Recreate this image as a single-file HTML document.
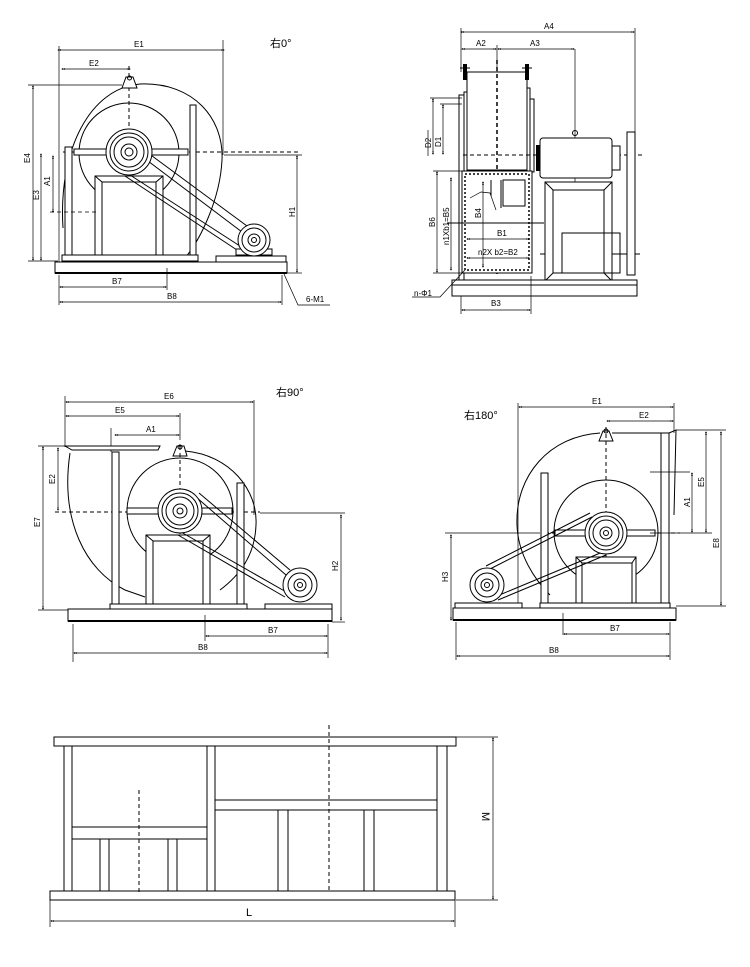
<!DOCTYPE html>
<html><head><meta charset="utf-8"><style>
html,body{margin:0;padding:0;background:#fff}
svg{display:block}
text{font-family:"Liberation Sans","Noto Sans CJK SC",sans-serif;fill:#000}
.l{stroke:#000;stroke-width:1;fill:none}
.t{stroke:#000;stroke-width:0.7;fill:none}
.w{stroke:#000;stroke-width:1;fill:#fff}
.d{stroke:#000;stroke-width:1;fill:none;stroke-dasharray:4 3}
.dm{stroke:#000;stroke-width:0.7;fill:none;marker-start:url(#a);marker-end:url(#a)}
.s{font-size:8px}
.m{font-size:11px}
</style></head><body>
<svg width="750" height="967" viewBox="0 0 750 967" xmlns="http://www.w3.org/2000/svg">
<defs><marker id="a" viewBox="0 0 10 10" refX="5" refY="5" markerWidth="5" markerHeight="5" orient="auto-start-reverse"><path d="M0,2 L5,5 L0,8 Z M5,2 L10,5 L5,8Z" fill="#000"/></marker></defs>

<!-- ===== VIEW 1 ===== -->
<text x="270" y="47" class="m">右0°</text>
<line class="dm" x1="59" y1="50" x2="223" y2="50"/><text x="134" y="47" class="s">E1</text>
<line class="t" x1="59" y1="46" x2="59" y2="262"/><line class="t" x1="223" y1="40" x2="223" y2="155"/>
<line class="dm" x1="63" y1="69" x2="129" y2="69"/><text x="89" y="66" class="s">E2</text>
<line class="d" x1="129" y1="66" x2="129" y2="262"/>
<path class="l" d="M63,228 C58,150 90,88 140,84 C195,82 224,120 222,160 C220,200 200,240 185,258"/>
<circle class="l" cx="129" cy="153" r="50"/>
<path class="w" d="M122,88 L126,77 L133,77 L137,88 Z"/><circle class="l" cx="129.5" cy="78" r="2"/>
<line class="d" x1="63" y1="152" x2="300" y2="152"/>
<rect class="w" x="74" y="149" width="114" height="6"/>
<rect class="w" x="190" y="105" width="6" height="155"/>
<rect class="w" x="65" y="147" width="7" height="108"/>
<rect class="w" x="95" y="176" width="68" height="84"/>
<rect class="l" x="102" y="182" width="54" height="78"/>
<line class="l" x1="95" y1="176" x2="102" y2="182"/><line class="l" x1="163" y1="176" x2="156" y2="182"/>
<line class="l" x1="140" y1="155" x2="242" y2="232"/><line class="l" x1="144" y1="150" x2="247" y2="226"/>
<line class="l" x1="125" y1="176" x2="240" y2="252"/><line class="l" x1="130" y1="175" x2="243" y2="248"/>
<circle class="w" cx="129" cy="152" r="23"/><circle class="l" cx="129" cy="152" r="19"/><circle class="l" cx="129" cy="152" r="15"/><circle class="l" cx="129" cy="152" r="8"/><circle class="l" cx="129" cy="152" r="4"/>
<rect class="w" x="236" y="249" width="36" height="6"/>
<circle class="w" cx="254" cy="240" r="16"/><circle class="l" cx="254" cy="240" r="12"/><circle class="l" cx="254" cy="240" r="6"/><circle class="l" cx="254" cy="240" r="2.5"/>
<rect class="w" x="62" y="255" width="136" height="6"/>
<rect class="w" x="216" y="256" width="70" height="6"/>
<rect class="w" x="55" y="262" width="232" height="11"/>
<line class="l" x1="55" y1="273" x2="287" y2="273" style="stroke-width:2"/>
<line class="t" x1="28" y1="85" x2="122" y2="85"/><line class="t" x1="28" y1="261" x2="58" y2="261"/>
<line class="dm" x1="33" y1="87" x2="33" y2="259"/><text transform="translate(30,163) rotate(-90)" class="s">E4</text>
<line class="dm" x1="41" y1="155" x2="41" y2="259"/><text transform="translate(39,200) rotate(-90)" class="s">E3</text>
<line class="t" x1="50" y1="212" x2="98" y2="212" style="stroke-dasharray:4 3"/>
<line class="dm" x1="53" y1="157" x2="53" y2="211"/><text transform="translate(50,186) rotate(-90)" class="s">A1</text>
<line class="t" x1="224" y1="155" x2="302" y2="155"/><line class="t" x1="287" y1="273" x2="302" y2="273"/>
<line class="dm" x1="297" y1="157" x2="297" y2="271"/><text transform="translate(295,217) rotate(-90)" class="s">H1</text>
<line class="t" x1="59" y1="275" x2="59" y2="305"/><line class="t" x1="167" y1="268" x2="167" y2="290"/><line class="t" x1="282" y1="275" x2="282" y2="305"/>
<line class="dm" x1="61" y1="287" x2="165" y2="287"/><text x="112" y="284" class="s">B7</text>
<line class="dm" x1="61" y1="302" x2="280" y2="302"/><text x="167" y="299" class="s">B8</text>
<path class="t" d="M284,274 L298,305 L330,305"/><text x="306" y="302" class="s">6-M1</text>

<!-- ===== VIEW 2 ===== -->
<line class="dm" x1="462" y1="32" x2="633" y2="32"/><text x="544" y="29" class="s">A4</text>
<line class="t" x1="461" y1="28" x2="461" y2="72"/><line class="t" x1="635" y1="28" x2="635" y2="132"/>
<line class="dm" x1="463" y1="49" x2="495" y2="49"/><text x="476" y="46" class="s">A2</text>
<line class="dm" x1="499" y1="49" x2="573" y2="49"/><text x="530" y="46" class="s">A3</text>
<line class="t" x1="575" y1="49" x2="575" y2="182"/>
<line class="t" x1="497" y1="45" x2="497" y2="72"/>
<rect class="w" x="467" y="72" width="60" height="98"/>
<rect x="463" y="64" width="4" height="16" fill="#000"/><rect x="525" y="64" width="4" height="16" fill="#000"/>
<line class="l" x1="460" y1="68" x2="470" y2="68"/><line class="l" x1="522" y1="68" x2="532" y2="68"/>
<rect class="w" x="459" y="95" width="5" height="190"/><rect class="w" x="464" y="92" width="3" height="80"/>
<rect class="w" x="527" y="88" width="3" height="84"/><rect class="w" x="530" y="99" width="4" height="73"/>
<line class="d" x1="497" y1="60" x2="497" y2="275" style="stroke-width:1.5"/>
<line class="d" x1="463" y1="155" x2="645" y2="155"/>
<rect class="w" x="462" y="171" width="70" height="102"/>
<rect class="d" x="465" y="174" width="64" height="96" style="stroke-width:1.5;stroke-dasharray:2 2"/>
<line class="l" x1="491" y1="180" x2="491" y2="196"/><line class="l" x1="501" y1="180" x2="501" y2="208"/>
<rect class="l" x="503" y="180" width="22" height="26"/>
<line class="l" x1="447" y1="223" x2="544" y2="223"/>
<line class="l" x1="540" y1="254" x2="640" y2="254"/>
<rect class="w" x="540" y="138" width="72" height="40" rx="3"/>
<rect x="536" y="145" width="4" height="26" fill="#000"/>
<rect class="w" x="612" y="146" width="8" height="24"/>
<circle class="l" cx="575" cy="133" r="2.5"/>
<rect class="w" x="545" y="182" width="67" height="99"/>
<rect class="l" x="553" y="190" width="51" height="83"/>
<line class="l" x1="545" y1="182" x2="553" y2="190"/><line class="l" x1="612" y1="182" x2="604" y2="190"/>
<line class="l" x1="545" y1="281" x2="553" y2="273"/><line class="l" x1="612" y1="281" x2="604" y2="273"/>
<rect class="l" x="562" y="233" width="58" height="40"/>
<rect class="w" x="627" y="132" width="8" height="143"/>
<rect class="w" x="452" y="280" width="185" height="16"/>
<line class="l" x1="452" y1="285" x2="637" y2="285"/>
<line class="t" x1="430" y1="98" x2="462" y2="98"/><line class="t" x1="440" y1="104" x2="462" y2="104"/>
<line class="dm" x1="433" y1="100" x2="433" y2="153"/><text transform="translate(431,148) rotate(-90)" class="s">D2</text>
<line class="t" x1="428" y1="156" x2="428" y2="130"/>
<line class="dm" x1="443" y1="106" x2="443" y2="153"/><text transform="translate(441,147) rotate(-90)" class="s">D1</text>
<line class="t" x1="433" y1="171" x2="463" y2="171"/><line class="t" x1="433" y1="273" x2="463" y2="273"/>
<line class="dm" x1="437" y1="173" x2="437" y2="271"/><text transform="translate(435,227) rotate(-90)" class="s">B6</text>
<line class="dm" x1="451" y1="179" x2="451" y2="269"/><text transform="translate(449,245) rotate(-90)" class="s">n1Xb1=B5</text>
<line class="dm" x1="483" y1="183" x2="483" y2="266"/><text transform="translate(481,218) rotate(-90)" class="s">B4</text>
<path class="t" d="M470,198 L481,192 L490,193 L496,210"/>
<line class="dm" x1="468" y1="239" x2="528" y2="239"/><text x="497" y="236" class="s">B1</text>
<line class="dm" x1="468" y1="258" x2="528" y2="258"/><text x="478" y="255" class="s">n2X b2=B2</text>
<path class="t" d="M465,270 L440,297 L412,297"/><text x="414" y="296" class="s">n-Φ1</text>
<line class="t" x1="461" y1="296" x2="461" y2="314"/><line class="t" x1="531" y1="276" x2="531" y2="314"/>
<line class="dm" x1="463" y1="310" x2="529" y2="310"/><text x="491" y="306" class="s">B3</text>

<!-- ===== VIEW 3 ===== -->
<text x="276" y="396" class="m">右90°</text>
<line class="t" x1="65" y1="396" x2="65" y2="447"/><line class="t" x1="254" y1="400" x2="254" y2="515"/>
<line class="dm" x1="67" y1="402" x2="252" y2="402"/><text x="164" y="399" class="s">E6</text>
<line class="dm" x1="67" y1="416" x2="178" y2="416"/><text x="115" y="413" class="s">E5</text>
<line class="t" x1="180" y1="413" x2="180" y2="440"/><line class="t" x1="111" y1="428" x2="111" y2="452"/>
<line class="dm" x1="116" y1="435" x2="178" y2="435"/><text x="146" y="432" class="s">A1</text>
<path class="l" d="M70,453 C60,520 85,570 125,590 L145,597 M185,451 C230,455 258,490 256,525 C255,555 240,575 220,590"/>
<path class="l" d="M65,446 L160,446 L158,450 L72,450 Z" style="fill:#fff"/>
<circle class="l" cx="180" cy="511" r="53"/>
<path class="w" d="M173,456 L177,446 L184,446 L187,456 Z"/><circle class="l" cx="180" cy="447" r="2"/>
<line class="d" x1="180" y1="446" x2="180" y2="605"/>
<line class="d" x1="55" y1="512" x2="260" y2="512"/>
<rect class="w" x="127" y="508" width="105" height="6"/>
<rect class="w" x="112" y="452" width="7" height="153"/>
<rect class="w" x="237" y="483" width="7" height="122"/>
<rect class="w" x="146" y="535" width="64" height="70"/>
<rect class="l" x="153" y="541" width="50" height="64"/>
<line class="l" x1="146" y1="535" x2="153" y2="541"/><line class="l" x1="210" y1="535" x2="203" y2="541"/>
<line class="l" x1="196" y1="497" x2="286" y2="575"/><line class="l" x1="199" y1="493" x2="290" y2="570"/>
<line class="l" x1="178" y1="535" x2="285" y2="597"/><line class="l" x1="181" y1="532" x2="288" y2="593"/>
<circle class="w" cx="180" cy="511" r="22"/><circle class="l" cx="180" cy="511" r="18"/><circle class="l" cx="180" cy="511" r="14"/><circle class="l" cx="180" cy="511" r="7"/><circle class="l" cx="180" cy="511" r="3"/>
<rect class="w" x="265" y="604" width="67" height="7"/>
<circle class="w" cx="300" cy="585" r="17"/><circle class="l" cx="300" cy="585" r="12"/><circle class="l" cx="300" cy="585" r="6"/><circle class="l" cx="300" cy="585" r="2.5"/>
<rect class="w" x="110" y="604" width="137" height="5"/>
<rect class="w" x="68" y="609" width="264" height="12"/>
<line class="l" x1="68" y1="621" x2="332" y2="621" style="stroke-width:2"/>
<line class="t" x1="38" y1="446" x2="66" y2="446"/><line class="t" x1="38" y1="610" x2="68" y2="610"/>
<line class="dm" x1="43" y1="448" x2="43" y2="608"/><text transform="translate(40,527) rotate(-90)" class="s">E7</text>
<line class="dm" x1="58" y1="449" x2="58" y2="509"/><text transform="translate(55,484) rotate(-90)" class="s">E2</text>
<line class="t" x1="260" y1="513" x2="345" y2="513"/><line class="t" x1="332" y1="622" x2="345" y2="622"/>
<line class="dm" x1="341" y1="516" x2="341" y2="619"/><text transform="translate(338,571) rotate(-90)" class="s">H2</text>
<line class="t" x1="205" y1="615" x2="205" y2="641"/><line class="t" x1="328" y1="624" x2="328" y2="658"/><line class="t" x1="73" y1="624" x2="73" y2="662"/>
<line class="dm" x1="207" y1="636" x2="326" y2="636"/><text x="268" y="633" class="s">B7</text>
<line class="dm" x1="75" y1="653" x2="326" y2="653"/><text x="198" y="650" class="s">B8</text>

<!-- ===== VIEW 4 ===== -->
<text x="464" y="419" class="m">右180°</text>
<line class="t" x1="518" y1="403" x2="518" y2="605"/><line class="t" x1="674" y1="403" x2="674" y2="433"/>
<line class="dm" x1="520" y1="407" x2="672" y2="407"/><text x="592" y="404" class="s">E1</text>
<line class="dm" x1="608" y1="421" x2="672" y2="421"/><text x="639" y="418" class="s">E2</text>
<path class="l" d="M600,433 C550,436 515,475 517,525 C518,555 535,580 550,595"/>
<line class="l" x1="612" y1="433" x2="669" y2="433"/>
<path class="l" d="M669,433 L676,430 L674,515"/>
<circle class="l" cx="606" cy="532" r="52"/>
<path class="w" d="M599,441 L603,431 L609,431 L613,441 Z"/><circle class="l" cx="606" cy="431" r="2"/>
<line class="d" x1="606" y1="427" x2="606" y2="615"/>
<line class="d" x1="545" y1="533" x2="680" y2="533"/>
<rect class="w" x="555" y="530" width="100" height="6"/>
<rect class="w" x="661" y="433" width="8" height="172"/>
<rect class="w" x="541" y="473" width="7" height="132"/>
<line class="t" x1="650" y1="472" x2="690" y2="472"/>
<rect class="w" x="576" y="557" width="60" height="50"/>
<rect class="l" x="582" y="563" width="50" height="44"/>
<line class="l" x1="576" y1="557" x2="582" y2="563"/><line class="l" x1="636" y1="557" x2="632" y2="563"/>
<line class="l" x1="488" y1="570" x2="592" y2="517"/><line class="l" x1="486" y1="566" x2="590" y2="513"/>
<line class="l" x1="498" y1="600" x2="606" y2="555"/><line class="l" x1="497" y1="596" x2="605" y2="551"/>
<circle class="w" cx="606" cy="533" r="21"/><circle class="l" cx="606" cy="533" r="17"/><circle class="l" cx="606" cy="533" r="13"/><circle class="l" cx="606" cy="533" r="6"/><circle class="l" cx="606" cy="533" r="2.5"/>
<rect class="w" x="455" y="603" width="67" height="6"/>
<circle class="w" cx="487" cy="585" r="17"/><circle class="l" cx="487" cy="585" r="12"/><circle class="l" cx="487" cy="585" r="6"/><circle class="l" cx="487" cy="585" r="2.5"/>
<rect class="w" x="540" y="603" width="130" height="5"/>
<rect class="w" x="453" y="608" width="223" height="12"/>
<line class="l" x1="453" y1="620" x2="676" y2="620" style="stroke-width:2"/>
<line class="t" x1="676" y1="430" x2="726" y2="430"/><line class="t" x1="676" y1="606" x2="726" y2="606"/><line class="t" x1="650" y1="533" x2="712" y2="533"/>
<line class="dm" x1="692" y1="474" x2="692" y2="531"/><text transform="translate(690,507) rotate(-90)" class="s">A1</text>
<line class="dm" x1="706" y1="433" x2="706" y2="531"/><text transform="translate(704,487) rotate(-90)" class="s">E5</text>
<line class="dm" x1="721" y1="433" x2="721" y2="604"/><text transform="translate(719,548) rotate(-90)" class="s">E8</text>
<line class="t" x1="445" y1="533" x2="540" y2="533"/>
<line class="dm" x1="451" y1="536" x2="451" y2="619"/><text transform="translate(448,582) rotate(-90)" class="s">H3</text>
<line class="t" x1="563" y1="613" x2="563" y2="635"/><line class="t" x1="670" y1="622" x2="670" y2="660"/><line class="t" x1="456" y1="622" x2="456" y2="660"/>
<line class="dm" x1="565" y1="634" x2="668" y2="634"/><text x="610" y="631" class="s">B7</text>
<line class="dm" x1="458" y1="656" x2="668" y2="656"/><text x="549" y="653" class="s">B8</text>

<!-- ===== VIEW 5 ===== -->
<rect class="w" x="54" y="737" width="402" height="9"/>
<rect class="w" x="64" y="746" width="8" height="145"/>
<rect class="w" x="207" y="746" width="8" height="145"/>
<rect class="w" x="437" y="746" width="10" height="145"/>
<rect class="w" x="72" y="827" width="135" height="12"/>
<rect class="w" x="100" y="839" width="9" height="52"/>
<rect class="w" x="168" y="839" width="9" height="52"/>
<rect class="w" x="215" y="800" width="222" height="10"/>
<rect class="w" x="278" y="810" width="10" height="81"/>
<rect class="w" x="364" y="810" width="10" height="81"/>
<rect class="w" x="50" y="891" width="405" height="9"/>
<line class="d" x1="139" y1="790" x2="139" y2="893"/>
<line class="d" x1="329" y1="725" x2="329" y2="893"/>
<line class="t" x1="456" y1="737" x2="498" y2="737"/><line class="t" x1="456" y1="900" x2="498" y2="900"/>
<line class="dm" x1="493" y1="739" x2="493" y2="898"/><text transform="translate(482,812) rotate(90)" class="m">M</text>
<line class="t" x1="50" y1="900" x2="50" y2="927"/><line class="t" x1="455" y1="900" x2="455" y2="927"/>
<line class="dm" x1="52" y1="921" x2="453" y2="921"/><text x="246" y="916" class="m">L</text>
</svg>
</body></html>
